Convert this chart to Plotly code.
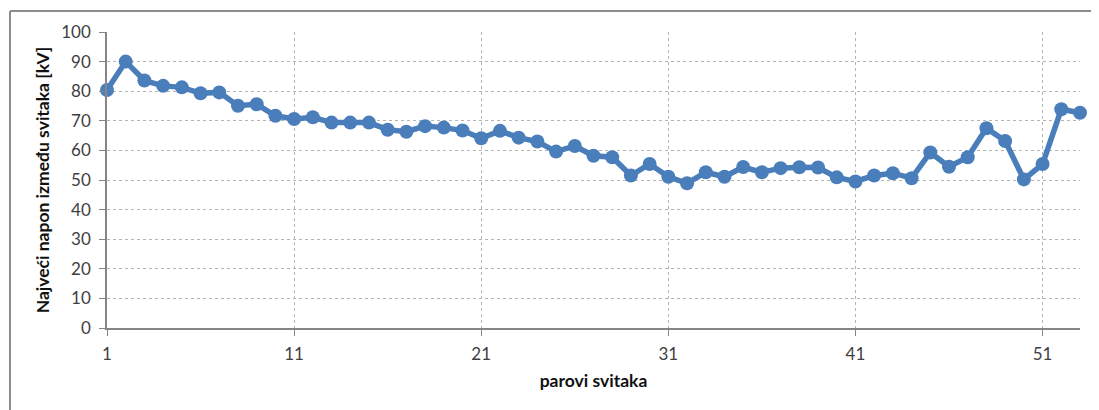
import plotly.graph_objects as go

pairs = list(range(1, 54))
voltage_kv = [
    80.4, 90.0, 83.6, 81.8, 81.3, 79.3, 79.6, 75.1, 75.6, 71.7,
    70.6, 71.2, 69.4, 69.4, 69.4, 67.0, 66.3, 68.2, 67.7, 66.7,
    64.1, 66.6, 64.3, 63.0, 59.6, 61.5, 58.2, 57.7, 51.5, 55.4,
    51.1, 48.9, 52.6, 51.1, 54.4, 52.6, 54.0, 54.3, 54.2, 50.9,
    49.5, 51.5, 52.3, 50.6, 59.3, 54.5, 57.7, 67.5, 63.2, 50.2,
    55.4, 73.9, 72.7,
]
x_ticks = [1, 11, 21, 31, 41, 51]
y_ticks = list(range(0, 101, 10))

fig = go.Figure()
fig.add_trace(go.Scatter(
    x=pairs, y=voltage_kv, mode="lines+markers",
    line=dict(color="#4A7EBB", width=5.5),
    marker=dict(color="#4A7EBB", size=14),
    showlegend=False, cliponaxis=False,
))

font_family = "Lato, 'Open Sans', sans-serif"
ML, MR, MT, MB = 99, 19, 24, 82
frame_left = (2 - ML) / 973
frame_right = (1091 - ML) / 973
frame_top = (296 + 21) / 296
frame_line = dict(color="#8C8C8C", width=2)
fig.update_layout(
    width=1091, height=402,
    margin=dict(l=ML, r=MR, t=MT, b=MB),
    paper_bgcolor="white", plot_bgcolor="white",
    font=dict(family=font_family, size=17, color="#404040"),
    xaxis=dict(
        range=[1, 53], tickvals=x_ticks, ticktext=[str(v) for v in x_ticks],
        showgrid=True, gridcolor="#B4B4B4", griddash="dot", gridwidth=1,
        showline=True, linecolor="#868686", linewidth=1.5,
        ticks="outside", ticklen=6, tickcolor="#868686",
        ticklabelstandoff=4,
        zeroline=False,
        title=dict(text="<b>parovi svitaka</b>", font=dict(size=17.5, color="#111111"), standoff=12),
    ),
    yaxis=dict(
        range=[0, 100], tickvals=y_ticks,
        showgrid=True, gridcolor="#B4B4B4", griddash="dot", gridwidth=1,
        showline=True, linecolor="#868686", linewidth=1.5,
        ticks="outside", ticklen=6, tickcolor="#868686",
        ticklabelstandoff=5,
        zeroline=False,
        title=dict(text="<b>Najveći napon između svitaka [kV]</b>", font=dict(size=17.5, color="#111111"), standoff=7),
    ),
    shapes=[
        dict(type="line", xref="paper", yref="paper",
             x0=frame_left, x1=frame_left, y0=-0.3, y1=frame_top, line=frame_line, layer="below"),
        dict(type="line", xref="paper", yref="paper",
             x0=frame_left, x1=frame_right, y0=frame_top, y1=frame_top, line=frame_line, layer="below"),
    ],
)

fig.write_html("out.html")
